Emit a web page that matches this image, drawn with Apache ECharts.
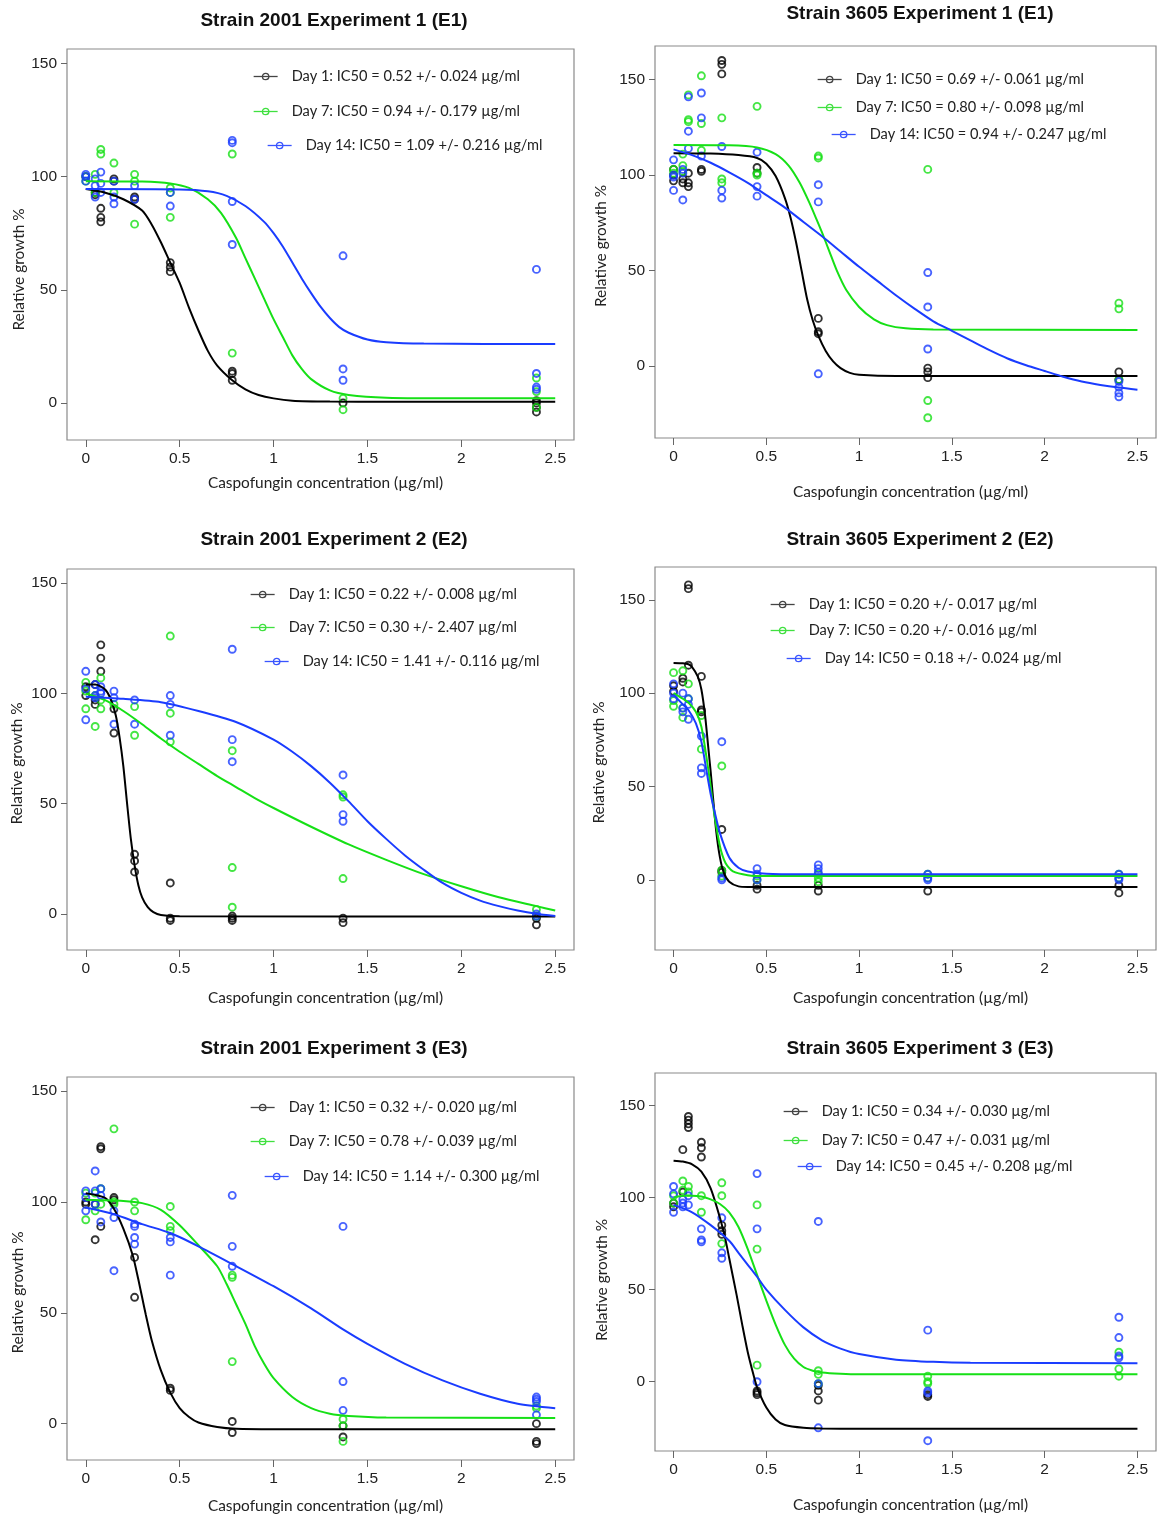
<!DOCTYPE html>
<html><head><meta charset="utf-8">
<script src="https://cdn.jsdelivr.net/npm/echarts@6.0.0/dist/echarts.min.js"></script>
<style>html,body{margin:0;padding:0;background:#fff}#c{width:1157px;height:1517px}</style>
</head><body><div id="c"></div><script>
// Caspofungin concentrations (µg/ml)
const conc = [0, 0.05, 0.08, 0.15, 0.26, 0.45, 0.78, 1.37, 2.4];
const xTicks = [0, 0.5, 1, 1.5, 2, 2.5];
const yTicks = [0, 50, 100, 150];
const dayNames = ['Day 1', 'Day 7', 'Day 14'];

const titles = [
  'Strain 2001 Experiment 1 (E1)', 'Strain 3605 Experiment 1 (E1)',
  'Strain 2001 Experiment 2 (E2)', 'Strain 3605 Experiment 2 (E2)',
  'Strain 2001 Experiment 3 (E3)', 'Strain 3605 Experiment 3 (E3)'
];
const ic50Labels = [
  ['0.52 +/- 0.024', '0.94 +/- 0.179', '1.09 +/- 0.216'],
  ['0.69 +/- 0.061', '0.80 +/- 0.098', '0.94 +/- 0.247'],
  ['0.22 +/- 0.008', '0.30 +/- 2.407', '1.41 +/- 0.116'],
  ['0.20 +/- 0.017', '0.20 +/- 0.016', '0.18 +/- 0.024'],
  ['0.32 +/- 0.020', '0.78 +/- 0.039', '1.14 +/- 0.300'],
  ['0.34 +/- 0.030', '0.47 +/- 0.031', '0.45 +/- 0.208']
];

// ---- Observed relative growth (%) per concentration (replicates) ----
// Strain 2001 E1
const s2001e1_d1 = [[100],[93,92],[86,82,80],[99,98],[91,90],[62,60,58],[14,13,10],[0],[1,0,-2,-4]];
const s2001e1_d7 = [[100,98],[101,93],[112,110],[106,93],[101,98,79],[95,93,82],[110,22],[2,-3],[11,5,-2]];
const s2001e1_d14 = [[101,100,98],[99,96,91],[102,97,93],[98,91,88],[96,90],[93,87],[116,115,89,70],[65,15,10],[59,13,7,6]];
// Strain 3605 E1
const s3605e1_d1 = [[103,100,97],[98,96],[101,96,94],[103,102],[160,158,153],[104,101],[25,18,17],[-1,-3,-6],[-3,-7]];
const s3605e1_d7 = [[103,101],[111,105,102],[142,129,128],[152,127,113],[130,98,96],[136,101,100],[110,109],[103,-18,-27],[33,30,-7]];
const s3605e1_d14 = [[108,100,99,92],[103,101,87],[141,123,114],[143,130,110],[115,92,88],[112,94,89],[95,86,-4],[49,31,9],[-8,-11,-14,-16]];
// Strain 2001 E2
const s2001e2_d1 = [[103,99],[104,97,95],[122,116,110],[93,82],[27,24,19],[14,-2,-3],[-1,-2,-3],[-2,-4],[-2,-5]];
const s2001e2_d7 = [[105,101,93],[99,85],[107,97,93],[95],[94,81],[126,91,78],[74,21,3],[54,53,16],[2,-1]];
const s2001e2_d14 = [[110,102,88],[104,99,98],[103,101,100],[101,98,86],[97,86],[99,95,81],[120,79,69],[63,45,42],[0,-1]];
// Strain 3605 E2
const s3605e2_d1 = [[104,101],[108,106],[158,156,115],[109,91,90],[27,5,4],[-3,-5],[-3,-6],[-6],[-3,-7]];
const s3605e2_d7 = [[111,96,93],[112,92,87],[105,97],[88,70],[61,5,2],[2,0],[3,1,-1],[3,1],[3,1]];
const s3605e2_d14 = [[105,100,97],[100,92,90],[97,94,86],[77,60,57],[74,1,0],[6,3,0],[8,6,4],[3,1,0],[3,1,0]];
// Strain 2001 E3
const s2001e3_d1 = [[100,99],[99,83],[125,124,89],[102,101],[75,57],[16,15],[1,-4],[-1,-6],[0,-9,-8]];
const s2001e3_d7 = [[104,92],[104,96],[106,99],[133,100,99],[100,96],[98,89,87],[67,66,28],[2,-1,-8],[8,7]];
const s2001e3_d14 = [[105,102,96],[114,105,99],[106,103,91],[96,93,69],[90,89,84,81],[84,82,67],[103,80,71],[89,19,6],[12,11,10,4]];
// Strain 3605 E3
const s3605e3_d1 = [[97,95],[126,103],[144,142,140,138],[130,127,122],[85,82,80],[-5,-7,-6],[-2,-5,-10],[-7,-8],[]];
const s3605e3_d7 = [[101,97],[109,104],[106,103],[101,92],[108,101,75],[96,72,9],[6,4,-1],[3,0,-1],[16,7,3]];
const s3605e3_d14 = [[106,102,92],[99,97,95],[101,96],[83,77,76],[89,70,67],[113,83,0],[87,-1,-25],[28,-5,-6,-32],[35,24,14,13]];

// ---- Fitted dose-response curves: [concentration, growth %] ----
const s2001e1_c1 = [[0,94.5],[0.1,93],[0.2,90],[0.3,85],[0.35,79],[0.4,71],[0.45,62],[0.5,53],[0.55,42],[0.6,32],[0.65,23],[0.7,16.5],[0.78,10],[0.85,6],[0.92,3.5],[1.0,2],[1.1,1],[1.3,0.6],[1.6,0.5],[2.5,0.5]];
const s2001e1_c7 = [[0,98],[0.3,97.8],[0.45,97],[0.55,95],[0.65,90],[0.72,84],[0.8,73],[0.85,64],[0.9,55],[0.95,46],[1.0,37],[1.05,29],[1.1,21],[1.15,15],[1.2,10.5],[1.3,5.5],[1.4,3.5],[1.6,2.3],[2.0,2],[2.5,2]];
const s2001e1_c14 = [[0,94.5],[0.5,94.3],[0.65,93.5],[0.75,91.5],[0.85,87],[0.95,80],[1.0,75],[1.05,69],[1.1,62],[1.15,55],[1.2,48.5],[1.25,42.5],[1.3,37.5],[1.35,33.5],[1.4,31],[1.5,28],[1.6,26.8],[1.8,26.2],[2.5,26]];

const s3605e1_c1 = [[0,111.5],[0.2,111.3],[0.35,110.5],[0.45,109],[0.5,106],[0.55,99.5],[0.6,88],[0.63,78],[0.66,65],[0.69,50],[0.72,35],[0.75,24],[0.78,16],[0.82,8],[0.86,2.5],[0.9,-1],[0.95,-3.5],[1.0,-4.5],[1.2,-5.2],[2.5,-5.2]];
const s3605e1_c7 = [[0,115.8],[0.3,115.6],[0.45,114.5],[0.55,111],[0.62,105],[0.68,96],[0.73,86],[0.77,77],[0.8,70],[0.84,60],[0.88,50],[0.93,40],[1.0,31],[1.08,24.5],[1.15,21.5],[1.25,19.8],[1.4,19.2],[2.5,19]];
const s3605e1_c14 = [[0,113.5],[0.1,110.5],[0.2,106.5],[0.3,101.5],[0.4,96],[0.5,89.5],[0.6,83],[0.7,75.5],[0.8,68],[0.9,60],[1.0,52],[1.1,44.5],[1.2,37],[1.3,30],[1.4,23.5],[1.5,18.5],[1.6,13.5],[1.7,8.5],[1.8,4],[1.9,0.5],[2.0,-2.5],[2.1,-5.5],[2.2,-8],[2.3,-9.8],[2.4,-11.2],[2.5,-12.3]];

const s2001e2_c1 = [[0,104],[0.05,104],[0.1,102],[0.13,98],[0.16,90],[0.18,80],[0.2,67],[0.22,50],[0.24,34],[0.26,22],[0.28,13],[0.3,7.5],[0.33,3],[0.36,0.8],[0.4,-0.5],[0.5,-1.1],[2.5,-1.2]];
const s2001e2_c7 = [[0,100],[0.1,97],[0.2,92],[0.3,86],[0.4,79.5],[0.5,73.5],[0.6,68],[0.7,62.5],[0.8,57.5],[0.9,52.5],[1.0,48],[1.2,39.5],[1.4,31.5],[1.6,24.5],[1.8,18],[2.0,12.5],[2.2,7.5],[2.4,3.5],[2.5,1.5]];
const s2001e2_c14 = [[0,98.5],[0.2,97.5],[0.4,96],[0.6,92],[0.8,87],[1.0,79],[1.1,73.5],[1.2,67],[1.3,59.5],[1.4,51],[1.5,42],[1.6,34],[1.7,26.5],[1.8,20],[1.9,14],[2.0,9.5],[2.1,6],[2.2,3.5],[2.3,1.5],[2.4,0],[2.5,-1]];

const s3605e2_c1 = [[0,116.2],[0.05,116],[0.08,115.5],[0.1,114],[0.13,109],[0.15,102],[0.17,88],[0.19,68],[0.2,58],[0.21,47],[0.23,26],[0.25,12],[0.27,4],[0.3,-1],[0.35,-3.5],[0.4,-3.8],[2.5,-3.8]];
const s3605e2_c7 = [[0,100],[0.05,97],[0.08,95],[0.12,90],[0.15,82],[0.18,64],[0.2,50],[0.22,35],[0.25,18],[0.28,9],[0.32,4.5],[0.4,2.5],[0.5,2],[2.5,2]];
const s3605e2_c14 = [[0,99],[0.05,94],[0.08,91],[0.12,84],[0.15,74],[0.18,57],[0.2,46],[0.22,37],[0.25,25],[0.3,12],[0.35,6.5],[0.4,4.5],[0.5,3.3],[0.7,3],[2.5,3]];

const s2001e3_c1 = [[0,104],[0.1,102],[0.15,97],[0.2,88],[0.25,76],[0.28,65],[0.3,57],[0.32,49],[0.35,38],[0.4,24],[0.45,14],[0.5,7],[0.55,3],[0.6,0.5],[0.7,-1.5],[0.8,-2.3],[1.0,-2.5],[2.5,-2.5]];
const s2001e3_c7 = [[0,101],[0.2,100.5],[0.3,99.5],[0.4,96.5],[0.5,89.5],[0.6,80.5],[0.7,71],[0.75,63],[0.8,54],[0.85,45],[0.9,35],[0.95,27],[1.0,20.5],[1.1,12],[1.2,7],[1.3,4.5],[1.4,3.5],[1.6,2.8],[2.5,2.5]];
const s2001e3_c14 = [[0,97.5],[0.15,94.5],[0.3,90],[0.45,86],[0.6,80],[0.78,72],[1.0,62],[1.2,52],[1.37,42.5],[1.5,36],[1.7,27],[1.9,19.5],[2.1,13.5],[2.3,9],[2.5,7]];

const s3605e3_c1 = [[0,120],[0.05,119.5],[0.1,118],[0.15,114],[0.2,105],[0.25,89],[0.28,77],[0.3,67],[0.34,47],[0.37,31],[0.4,16],[0.43,4],[0.45,-3],[0.5,-14],[0.55,-20.5],[0.6,-23.5],[0.7,-25],[0.8,-25.4],[1.0,-25.5],[2.5,-25.5]];
const s3605e3_c7 = [[0,100],[0.05,101],[0.1,101],[0.15,100.5],[0.2,99],[0.25,96.5],[0.3,92],[0.35,84],[0.4,72],[0.45,58],[0.5,44],[0.55,31],[0.6,20],[0.65,12.5],[0.7,8],[0.75,6],[0.8,5],[0.9,4.3],[1.0,4],[2.5,4]];
const s3605e3_c14 = [[0,96],[0.1,92],[0.2,85],[0.3,76.5],[0.35,70],[0.4,63.5],[0.45,57],[0.5,50],[0.6,39],[0.7,29.5],[0.8,22.5],[0.9,18],[1.0,15],[1.2,12],[1.4,10.8],[1.6,10.3],[2.5,10]];

const points = [
  [s2001e1_d1, s2001e1_d7, s2001e1_d14], [s3605e1_d1, s3605e1_d7, s3605e1_d14],
  [s2001e2_d1, s2001e2_d7, s2001e2_d14], [s3605e2_d1, s3605e2_d7, s3605e2_d14],
  [s2001e3_d1, s2001e3_d7, s2001e3_d14], [s3605e3_d1, s3605e3_d7, s3605e3_d14]
];
const curves = [
  [s2001e1_c1, s2001e1_c7, s2001e1_c14], [s3605e1_c1, s3605e1_c7, s3605e1_c14],
  [s2001e2_c1, s2001e2_c7, s2001e2_c14], [s3605e2_c1, s3605e2_c7, s3605e2_c14],
  [s2001e3_c1, s2001e3_c7, s2001e3_c14], [s3605e3_c1, s3605e3_c7, s3605e3_c14]
];

// ---- Layout (pixels) ----
const layout = [
  {g:[67,49,507,391],  y:[-16.4,156.4], t:[334,21],   xg:36, yg:40, ys:25, lg:[[253,73],[253,108],[267,142]]},
  {g:[655,46,501,392], y:[-37.6,167.6], t:[920,14],   xg:47, yg:46, ys:4,  lg:[[817,76],[817,104],[831,131]]},
  {g:[67,569,507,381], y:[-16.4,156.4], t:[334,540],  xg:41, yg:42, ys:4,  lg:[[250,591],[250,624],[264,658]]},
  {g:[655,567,501,383],y:[-37.6,167.6], t:[920,540],  xg:41, yg:48, ys:4,  lg:[[770,601],[770,627],[786,655]]},
  {g:[67,1077,507,383],y:[-16.4,156.4], t:[334,1049], xg:39, yg:41, ys:24, lg:[[250,1104],[250,1138],[264,1173]]},
  {g:[655,1073,501,378],y:[-37.6,167.6],t:[920,1049], xg:47, yg:45, ys:18, lg:[[783,1108],[783,1137],[797,1163]]}
];
const colors = ['#000000', '#16e016', '#1a3cff'];
const legendColors = ['#444444', '#40e040', '#3a55ff'];

const grid = [], xAxis = [], yAxis = [], series = [], legend = [], graphic = [];
const tickFont = {fontFamily:'Liberation Sans, Arial, sans-serif', fontSize:15.5, color:'#222'};
const nameFont = {fontFamily:'Lato, sans-serif', fontSize:15.4, color:'#222'};

layout.forEach((L, i) => {
  grid.push({left:L.g[0], top:L.g[1], width:L.g[2], height:L.g[3], show:true,
    borderColor:'#8a8a8a', borderWidth:1.2, backgroundColor:'rgba(0,0,0,0)', containLabel:false});
  xAxis.push({gridIndex:i, type:'value', min:-0.1, max:2.6, position:'bottom',
    axisLine:{show:false, onZero:false}, splitLine:{show:false},
    axisTick:{show:true, inside:false, length:7, lineStyle:{color:'#666', width:1}, customValues:xTicks},
    axisLabel:Object.assign({customValues:xTicks, margin:11, formatter:v => String(v)}, tickFont),
    name:'Caspofungin concentration (µg/ml)', nameLocation:'middle', nameGap:L.xg,
    nameTextStyle:Object.assign({padding:[0,0,0,10]}, nameFont)});
  yAxis.push({gridIndex:i, type:'value', min:L.y[0], max:L.y[1], position:'left',
    axisLine:{show:false, onZero:false}, splitLine:{show:false},
    axisTick:{show:true, inside:false, length:6, lineStyle:{color:'#666', width:1}, customValues:yTicks},
    axisLabel:Object.assign({customValues:yTicks, margin:10, formatter:v => String(v)}, tickFont),
    name:'Relative growth %', nameLocation:'middle', nameGap:L.yg,
    nameTextStyle:Object.assign({padding:[0, 2*L.ys, 0, 0]}, nameFont)});
  graphic.push({type:'text', x:L.t[0], y:L.t[1], silent:true,
    style:{text:titles[i], textAlign:'center', textVerticalAlign:'middle',
      font:'bold 19px "Liberation Sans", Arial, sans-serif', fill:'#111'}});

  for (let k = 0; k < 3; k++) {
    const data = [];
    conc.forEach((c, j) => points[i][k][j].forEach(v => data.push([c, v])));
    series.push({type:'scatter', name:'obs ' + i + '-' + k, xAxisIndex:i, yAxisIndex:i,
      data, symbol:'circle', symbolSize:7, z:2,
      itemStyle:{color:'rgba(0,0,0,0)', borderColor:colors[k], borderWidth:1.9}});
  }
  for (let k = 0; k < 3; k++) {
    const name = dayNames[k] + ': IC50 = ' + ic50Labels[i][k] + ' µg/ml';
    series.push({type:'line', name, xAxisIndex:i, yAxisIndex:i, data:curves[i][k],
      smooth:0.25, showSymbol:false, symbol:'circle', symbolSize:7, z:3,
      lineStyle:{color:colors[k], width:2}, itemStyle:{color:colors[k]}});
    legend.push({data:[name], left:L.lg[k][0], top:L.lg[k][1] - 4, padding:0, itemWidth:24, itemHeight:8,
      selectedMode:false,
      itemStyle:{color:'rgba(0,0,0,0)', borderColor:legendColors[k], borderWidth:1.3},
      lineStyle:{color:legendColors[k], width:1.3},
      textStyle:{fontFamily:'Lato, sans-serif', fontSize:14.6, color:'#222', padding:[0,0,0,9]}});
  }
});

const chart = echarts.init(document.getElementById('c'), null, {renderer:'canvas'});
chart.setOption({animation:false, backgroundColor:'#fff', grid, xAxis, yAxis, series, legend, graphic});
</script></body></html>
